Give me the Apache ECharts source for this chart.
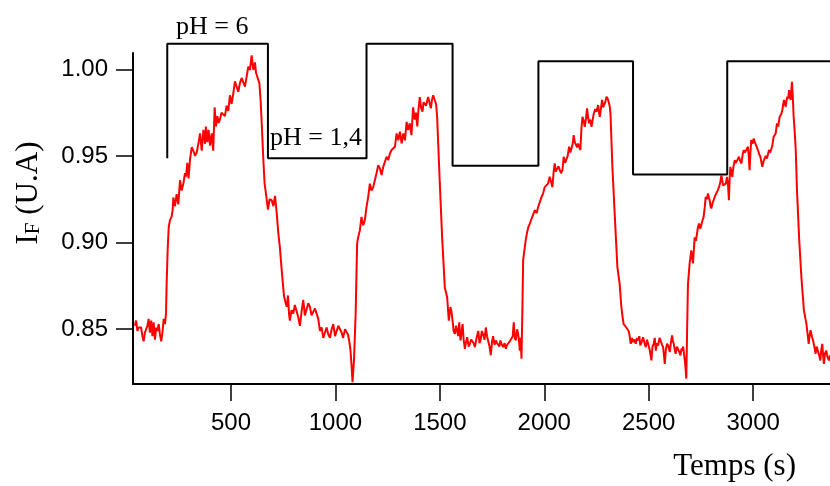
<!DOCTYPE html>
<html>
<head>
<meta charset="utf-8">
<script src="https://cdn.jsdelivr.net/npm/echarts@6/dist/echarts.min.js"></script>
<style>
html,body{margin:0;padding:0;background:#fff;}
#chart{width:830px;height:486px;}
</style>
</head>
<body>
<div id="chart"></div>
<script>
// Time (s)
var times = [40,46,52,58,64,70,76,82,88,94,100,106,112,118,124,130,136,142,148,154,160,166,172,178,184,189,
192,197,202,208,216,221,224,232,240,248,256,264,272,280,285,291,297,304,312,320,328,336,344,352,360,368,376,380,387,393,400,408,415,422,428,435,441,447,455,463,471,479,487,495,503,511,519,527,535,543,551,559,567,575,583,591,599,607,615,620,628,636,642,648,655,661,668,677,685,695,703,711,719,727,734,743,754,760,767,773,778,782,790,798,806,814,822,830,838,846,854,862,870,878,886,894,902,910,918,926,934,942,950,958,966,974,982,990,998,1006,1014,1022,1030,1037,1046,1054,1060,1066,1072,1078,1082,1089,1097,1104,1109,1117,1125,1133,1141,1149,1157,1165,1173,1181,1189,1197,1205,1213,1221,1229,1237,1245,1253,1261,1269,1277,1285,1293,1301,1309,1317,1325,1333,1341,1348,1356,1364,1372,1380,1386,1392,1398,1404,1410,1417,1422,1428,1434,1439,1444,1449,1457,1462,1468,1476,1482,1487,1500,1511,1524,1535,1543,1551,1556,1561,1566,1572,1578,1583,1588,1593,1599,1604,1609,1614,1620,1626,1631,1638,1644,1650,1656,1662,1668,1676,1684,1690,1695,1701,1707,1714,1720,1726,1731,1738,1744,1750,1755,1762,1768,1774,1779,1785,1790,1797,1803,1810,1816,1822,1827,1835,1843,1849,1854,1859,1864,1870,1875,1880,1883,1887,1891,1895,1899,1907,1912,1918,1924,1931,1937,1943,1949,1955,1963,1971,1979,1987,1994,2002,2010,2018,2026,2034,2039,2045,2050,2055,2061,2068,2074,2080,2087,2093,2100,2106,2112,2119,2125,2130,2136,2141,2146,2151,2157,2162,2168,2173,2178,2183,2189,2194,2200,2205,2210,2215,2221,2226,2232,2237,2244,2250,2258,2262,2266,2272,2277,2282,2286,2292,2298,2304,2309,2313,2317,2326,2337,2350,2361,2369,2375,2380,2387,2393,2398,2404,2409,2414,2420,2425,2432,2438,2444,2449,2455,2460,2467,2473,2480,2486,2492,2497,2505,2513,2518,2524,2529,2534,2540,2545,2552,2558,2564,2569,2573,2577,2582,2588,2595,2601,2606,2612,2616,2620,2625,2629,2635,2640,2646,2652,2657,2661,2665,2669,2673,2676,2680,2684,2688,2696,2704,2712,2720,2726,2731,2736,2741,2747,2752,2758,2763,2768,2773,2778,2784,2788,2792,2796,2800,2806,2811,2818,2824,2830,2837,2843,2848,2852,2856,2862,2869,2875,2880,2884,2888,2891,2896,2900,2906,2912,2916,2920,2926,2932,2938,2944,2950,2955,2960,2964,2970,2975,2979,2983,2987,2991,2997,3003,3008,3012,3018,3023,3029,3035,3040,3044,3050,3055,3060,3066,3071,3076,3082,3087,3092,3098,3103,3108,3114,3120,3127,3134,3140,3144,3148,3152,3156,3160,3164,3168,3172,3176,3180,3183,3186,3190,3194,3200,3204,3210,3220,3231,3243,3249,3255,3260,3266,3270,3275,3281,3287,3293,3299,3304,3310,3316,3322,3326,3331,3335,3339,3344,3350,3356,3363,3368];
// Fluorescence intensity I_F (U.A)
var intensity = [0.852,0.855,0.849,0.851,0.850,0.851,0.846,0.843,0.848,0.849,0.852,0.856,0.848,0.855,0.846,0.854,0.844,0.851,0.849,0.853,0.847,0.843,0.848,0.856,0.853,0.859,
0.876,0.896,0.909,0.913,0.915,0.919,0.926,0.921,0.928,0.922,0.936,0.930,0.934,0.940,0.938,0.946,0.937,0.948,0.955,0.953,0.950,0.952,0.957,0.963,0.953,0.965,0.957,0.967,0.958,0.965,0.956,0.963,0.953,0.978,0.967,0.973,0.969,0.971,0.975,0.976,0.973,0.979,0.976,0.985,0.980,0.986,0.993,0.990,0.987,0.992,0.995,0.994,0.990,0.989,1.0015,0.9996,1.008,0.9996,1.004,0.998,0.999,0.992,0.982,0.967,0.948,0.934,0.928,0.919,0.925,0.9245,0.921,0.927,0.917,0.905,0.8975,0.884,0.869,0.866,0.863,0.8695,0.859,0.855,0.861,0.859,0.864,0.863,0.857,0.852,0.860,0.867,0.858,0.859,0.865,0.863,0.858,0.857,0.862,0.859,0.856,0.849,0.851,0.845,0.848,0.851,0.847,0.845,0.850,0.853,0.846,0.847,0.852,0.851,0.848,0.845,0.850,0.851,0.847,0.8435,0.838,0.828,0.8194,0.832,0.859,0.8994,0.903,0.907,0.9148,0.910,0.9129,0.9206,0.9264,0.934,0.930,0.932,0.936,0.940,0.9447,0.9428,0.939,0.9437,0.9466,0.9495,0.9476,0.9514,0.9534,0.9524,0.9553,0.963,0.959,0.964,0.9572,0.963,0.959,0.9697,0.9649,0.9688,0.962,0.978,0.971,0.975,0.967,0.977,0.984,0.978,0.9755,0.981,0.982,0.979,0.980,0.984,0.983,0.9775,0.982,0.985,0.985,0.980,0.9726,0.934,0.903,0.874,0.8685,0.855,0.8628,0.860,0.855,0.849,0.8474,0.852,0.851,0.846,0.854,0.8435,0.848,0.853,0.844,0.8387,0.843,0.8454,0.840,0.8416,0.844,0.8435,0.842,0.8397,0.845,0.849,0.842,0.8435,0.849,0.847,0.844,0.851,0.846,0.8435,0.840,0.835,0.843,0.846,0.841,0.8435,0.842,0.8416,0.840,0.8435,0.841,0.8397,0.842,0.8387,0.841,0.8406,0.843,0.8435,0.846,0.854,0.845,0.8435,0.850,0.8474,0.842,0.8377,0.845,0.833,0.860,0.890,0.8975,0.902,0.906,0.909,0.911,0.910,0.915,0.914,0.9187,0.917,0.9206,0.921,0.9264,0.928,0.932,0.931,0.934,0.938,0.9379,0.932,0.941,0.9457,0.941,0.940,0.944,0.9437,0.940,0.9418,0.9495,0.946,0.9457,0.950,0.9553,0.952,0.9514,0.957,0.962,0.958,0.959,0.955,0.9572,0.955,0.9534,0.966,0.9726,0.970,0.9668,0.972,0.9775,0.972,0.9688,0.971,0.9668,0.971,0.9745,0.977,0.9755,0.9794,0.975,0.9726,0.978,0.9823,0.978,0.9775,0.981,0.9842,0.983,0.9823,0.979,0.9745,0.944,0.917,0.886,0.876,0.863,0.857,0.853,0.854,0.851,0.852,0.849,0.846,0.8416,0.845,0.8426,0.844,0.8416,0.845,0.8435,0.846,0.8406,0.843,0.8454,0.842,0.8397,0.844,0.8435,0.838,0.832,0.840,0.8416,0.845,0.8377,0.842,0.8406,0.845,0.8454,0.841,0.8397,0.835,0.830,0.838,0.8416,0.840,0.8368,0.842,0.8464,0.843,0.8416,0.838,0.8358,0.840,0.8397,0.837,0.8349,0.839,0.8377,0.840,0.8358,0.832,0.828,0.8214,0.850,0.876,0.888,0.8955,0.888,0.903,0.901,0.905,0.909,0.911,0.908,0.909,0.913,0.9148,0.920,0.9264,0.925,0.9283,0.926,0.9245,0.921,0.9197,0.923,0.9245,0.927,0.9264,0.930,0.9321,0.935,0.9389,0.936,0.933,0.934,0.934,0.9379,0.933,0.9245,0.938,0.9437,0.941,0.9379,0.944,0.9476,0.946,0.9457,0.948,0.9495,0.947,0.9457,0.951,0.9534,0.952,0.9514,0.954,0.9553,0.950,0.9418,0.952,0.9591,0.957,0.9601,0.958,0.9572,0.955,0.9534,0.951,0.9495,0.946,0.9437,0.947,0.9476,0.950,0.9485,0.951,0.9534,0.952,0.9514,0.956,0.961,0.962,0.963,0.9688,0.967,0.9726,0.974,0.9764,0.980,0.9823,0.980,0.9784,0.982,0.9842,0.983,0.988,0.985,0.9823,0.988,0.9928,0.984,0.9726,0.962,0.9534,0.930,0.903,0.880,0.861,0.857,0.8532,0.848,0.8416,0.846,0.8494,0.846,0.8435,0.840,0.8358,0.840,0.8397,0.835,0.832,0.838,0.8416,0.835,0.830,0.836,0.8377,0.834,0.832,0.835];

// pH switching schedule (times of switches) and indicator levels
var phSwitchTimes = [195, 677, 1149, 1561, 1972, 2425, 2876, 3368];
var phStartLevel = 0.9487;
var phLevels = [1.0147, 0.9487, 1.0147, 0.9443, 1.0046, 0.9393, 1.0046];

var xTicks = [500, 1000, 1500, 2000, 2500, 3000];
var yTicks = [0.85, 0.90, 0.95, 1.00];

var lineData = times.map(function (t, i) { return [t, intensity[i]]; });
var phData = [[phSwitchTimes[0], phStartLevel]];
for (var i = 0; i < phLevels.length; i++) {
  phData.push([phSwitchTimes[i], phLevels[i]]);
  phData.push([phSwitchTimes[i + 1], phLevels[i]]);
}

var chart = echarts.init(document.getElementById('chart'), null, {renderer: 'canvas'});
var axisFont = 'Liberation Sans, Arial, sans-serif';
var serif = 'Liberation Serif, Times New Roman, serif';
chart.setOption({
  animation: false,
  backgroundColor: '#fff',
  grid: {left: 133, right: 0, top: 53, bottom: 102, containLabel: false},
  xAxis: {
    type: 'value', min: 31, max: 3368,
    axisLine: {show: true, lineStyle: {color: '#000', width: 2}},
    axisTick: {show: true, length: 17, customValues: xTicks, lineStyle: {color: '#000', width: 1.5}},
    axisLabel: {show: true, customValues: xTicks, fontSize: 24, fontFamily: axisFont, color: '#000', margin: 27,
      formatter: function (v) { return String(Math.round(v)); }},
    splitLine: {show: false}
  },
  yAxis: {
    type: 'value', min: 0.8184, max: 1.0094,
    axisLine: {show: true, lineStyle: {color: '#000', width: 2}},
    axisTick: {show: true, length: 17, customValues: yTicks, lineStyle: {color: '#000', width: 1.5}},
    axisLabel: {show: true, customValues: yTicks, fontSize: 24, fontFamily: axisFont, color: '#000', margin: 25,
      formatter: function (v) { return v.toFixed(2); }},
    splitLine: {show: false}
  },
  series: [
    {type: 'line', data: phData, showSymbol: false, symbol: 'none', clip: false,
     lineStyle: {color: '#000', width: 2}, z: 2},
    {type: 'line', data: lineData, showSymbol: false, symbol: 'none',
     lineStyle: {color: '#ff0000', width: 2}, z: 3}
  ],
  graphic: [
    {type: 'text', x: 176, y: 27, style: {text: 'pH = 6', font: '26px ' + serif, fill: '#000', align: 'left', verticalAlign: 'middle'}},
    {type: 'text', x: 270, y: 138, style: {text: 'pH = 1,4', font: '26px ' + serif, fill: '#000', align: 'left', verticalAlign: 'middle'}},
    {type: 'text', x: 796, y: 467, style: {text: 'Temps (s)', font: '31px ' + serif, fill: '#000', align: 'right', verticalAlign: 'middle'}},
    {type: 'text', x: 27, y: 193, rotation: Math.PI / 2,
     style: {text: '{a|I}{b|F}{a| (U.A)}', align: 'center', verticalAlign: 'middle', fill: '#000',
       rich: {
         a: {fontSize: 31, fontFamily: serif, fill: '#000', color: '#000', lineHeight: 34, verticalAlign: 'bottom'},
         b: {fontSize: 21, fontFamily: serif, fill: '#000', color: '#000', lineHeight: 34, verticalAlign: 'bottom'}
       }}}
  ]
});
</script>
</body>
</html>
